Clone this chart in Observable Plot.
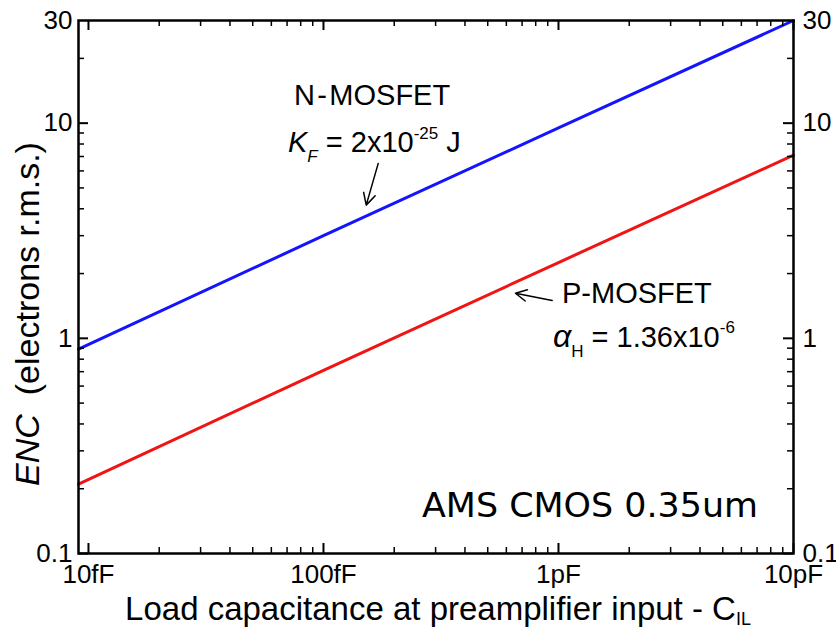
<!DOCTYPE html>
<html><head><meta charset="utf-8">
<script src="https://cdn.jsdelivr.net/npm/d3@7"></script>
<script src="https://cdn.jsdelivr.net/npm/@observablehq/plot@0.6"></script>
<style>
body{margin:0;background:#fff}
#chart svg{font-family:"Liberation Sans",Arial,sans-serif;}
</style>
</head><body><div id="chart"></div>
<script>
// ---- data (capacitance in fF, ENC in electrons r.m.s.) ----
const capacitance = [9.07, 100, 1000, 10000];
const encNmos = [0.89, 3.0, 9.5, 30];
const encPmos = [0.21, 0.71, 2.25, 7.1];

const xTickValues = [10, 100, 1000, 10000];
const xTickLabels = ["10fF", "100fF", "1pF", "10pF"];
const xMinorTicks = [20,30,40,50,60,70,80,90,200,300,400,500,600,700,800,900,2000,3000,4000,5000,6000,7000,8000,9000];
const yTickValues = [0.1, 1, 10, 30];
const yTickLabels = ["0.1", "1", "10", "30"];
const yMajorTicks = [0.1, 1, 10];
const yMinorTicks = [0.2,0.3,0.4,0.5,0.6,0.7,0.8,0.9,2,3,4,5,6,7,8,9,20];

// annotation arrows (data space)
const arrowX1 = [171, 940];
const arrowY1 = [6.5, 1.50];
const arrowX2 = [152, 656];
const arrowY2 = [4.16, 1.62];

const W = 836, H = 628, mL = 78, mR = 43, mT = 20, mB = 75;
const innerW = W - mL - mR, innerH = H - mT - mB;

const nData = capacitance.map((c, i) => ({c, enc: encNmos[i]}));
const pData = capacitance.map((c, i) => ({c, enc: encPmos[i]}));
const arrows = arrowX1.map((d, i) => ({x1: d, y1: arrowY1[i], x2: arrowX2[i], y2: arrowY2[i]}));

const plot = Plot.plot({
  width: W, height: H,
  marginLeft: mL, marginRight: mR, marginTop: mT, marginBottom: mB,
  x: {type: "log", domain: [9.07, 10000]},
  y: {type: "log", domain: [0.1, 30]},
  style: {fontFamily: '"Liberation Sans", Arial, sans-serif', fontSize: "26px", color: "#000", background: "#fff"},
  marks: [
    Plot.line(nData, {x: "c", y: "enc", stroke: "#1414ff", strokeWidth: 3}),
    Plot.line(pData, {x: "c", y: "enc", stroke: "#f01414", strokeWidth: 3}),
    // inward ticks: bottom / top
    Plot.tickX(xTickValues, {x: d => d, insetTop: innerH - 10, stroke: "#000", strokeWidth: 2}),
    Plot.tickX(xMinorTicks, {x: d => d, insetTop: innerH - 6, stroke: "#000", strokeWidth: 1.5}),
    Plot.tickX(xTickValues, {x: d => d, insetBottom: innerH - 10, stroke: "#000", strokeWidth: 2}),
    Plot.tickX(xMinorTicks, {x: d => d, insetBottom: innerH - 6, stroke: "#000", strokeWidth: 1.5}),
    // inward ticks: left / right
    Plot.tickY(yMajorTicks, {y: d => d, insetRight: innerW - 10, stroke: "#000", strokeWidth: 2}),
    Plot.tickY(yMinorTicks, {y: d => d, insetRight: innerW - 6, stroke: "#000", strokeWidth: 1.5}),
    Plot.tickY(yMajorTicks, {y: d => d, insetLeft: innerW - 10, stroke: "#000", strokeWidth: 2}),
    Plot.tickY(yMinorTicks, {y: d => d, insetLeft: innerW - 6, stroke: "#000", strokeWidth: 1.5}),
    Plot.frame({stroke: "#000", strokeWidth: 2.5}),
    Plot.axisX(xTickValues, {anchor: "bottom", tickSize: 0, tickPadding: 11, fontSize: 26,
      tickFormat: d => xTickLabels[xTickValues.indexOf(d)], label: null}),
    Plot.axisY(yTickValues, {anchor: "left", tickSize: 0, tickPadding: 6, fontSize: 26,
      tickFormat: d => yTickLabels[yTickValues.indexOf(d)], label: null}),
    Plot.axisY(yTickValues, {anchor: "right", tickSize: 0, tickPadding: 9, fontSize: 26,
      tickFormat: d => yTickLabels[yTickValues.indexOf(d)], label: null}),
    Plot.arrow(arrows, {x1: "x1", y1: "y1", x2: "x2", y2: "y2", stroke: "#000", strokeWidth: 1.5, headLength: 13, headAngle: 55})
  ]
});
document.getElementById("chart").appendChild(plot);

// ---- rich text annotations ----
const sx = plot.scale("x"), sy = plot.scale("y");
const svg = d3.select(plot);
const FONT = '"Liberation Sans", Arial, sans-serif';

function rich(x, y, parts, {anchor = "start", size = 29, rotate = 0, family = FONT} = {}) {
  const t = svg.append("text")
    .attr("transform", `translate(${x},${y}) rotate(${rotate})`)
    .attr("text-anchor", anchor)
    .attr("font-family", family)
    .attr("font-size", size)
    .attr("fill", "#000")
    .attr("xml:space", "preserve")
    .style("white-space", "pre");
  let prev = 0;
  for (const p of parts) {
    const shift = p.shift || 0;
    const ts = t.append("tspan").text(p.t).attr("dy", shift - prev);
    if (p.size) ts.attr("font-size", p.size);
    if (p.italic) ts.attr("font-style", "italic");
    if (p.dx) ts.attr("dx", p.dx);
    prev = shift;
  }
  return t;
}

// N-MOSFET label (baseline-anchored)
rich(sx.apply(161.7), sy.apply(12.08), [{t: "N\u200A-\u200AMOSFET"}], {anchor: "middle", size: 29});
rich(sx.apply(71.0), sy.apply(7.30), [
  {t: "K", italic: true},
  {t: "F", italic: true, size: 17, shift: 10},
  {t: " = 2x10", shift: 0},
  {t: "-25", size: 17, shift: -13},
  {t: " J", shift: 0}
], {anchor: "start", size: 29});

// P-MOSFET label
rich(sx.apply(1040), sy.apply(1.452), [{t: "P-MOSFET"}], {anchor: "start", size: 29});
rich(sx.apply(952), sy.apply(0.907), [
  {t: "\u03B1", italic: true, size: 32},
  {t: "H", size: 17, shift: 10},
  {t: " = 1.36x10", shift: 0},
  {t: "-6", size: 17, shift: -14}
], {anchor: "start", size: 29});

// process label
rich(sx.apply(263.8), sy.apply(0.147), [{t: "AMS CMOS 0.35um"}],
  {anchor: "start", size: 34, family: '"Comic Sans MS","DejaVu Sans",sans-serif'})
  .attr("textLength", 336).attr("lengthAdjust", "spacingAndGlyphs");

// axis titles
rich(438, H - 8, [
  {t: "Load capacitance at preamplifier input - C"},
  {t: "IL", size: 18, shift: 5}
], {anchor: "middle", size: 33});

rich(39, 314, [
  {t: "ENC", italic: true},
  {t: "  (electrons r.m.s.)"}
], {anchor: "middle", size: 34, rotate: -90});
</script>
</body></html>
